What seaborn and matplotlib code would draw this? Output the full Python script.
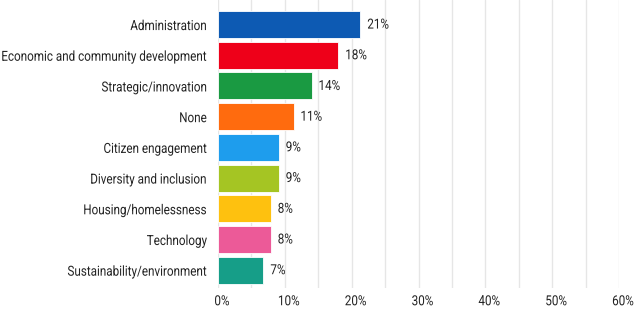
import matplotlib
matplotlib.use("Agg")
import matplotlib.pyplot as plt
import matplotlib.transforms as mtransforms
import matplotlib.patheffects as pe
import seaborn as sns
import pandas as pd
from matplotlib.ticker import MultipleLocator, FuncFormatter

categories = ["Administration", "Economic and community development", "Strategic/innovation",
              "None", "Citizen engagement", "Diversity and inclusion", "Housing/homelessness",
              "Technology", "Sustainability/environment"]
values = [21.3, 18.0, 14.0, 11.3, 9.1, 9.1, 7.9, 7.9, 6.8]
labels = ["21%", "18%", "14%", "11%", "9%", "9%", "8%", "8%", "7%"]
colors = ["#0D5AB3", "#EE0019", "#1A9A42", "#FF6B0E", "#1E9DED", "#A5C523",
          "#FEC10F", "#EC5A98", "#169E88"]


class Condense(pe.AbstractPathEffect):
    """Narrow the glyphs horizontally about an anchor side (condensed look)."""
    def __init__(self, sx=0.84, side="left"):
        super().__init__()
        self.sx = sx
        self.side = side

    def draw_path(self, renderer, gc, tpath, affine, rgbFace=None):
        v = affine.transform(tpath.vertices)
        if len(v):
            xmin, xmax = v[:, 0].min(), v[:, 0].max()
            a = {"left": xmin, "right": xmax, "center": 0.5 * (xmin + xmax)}[self.side]
            affine = affine + mtransforms.Affine2D().translate(-a, 0).scale(self.sx, 1).translate(a, 0)
        renderer.draw_path(gc, tpath, affine, rgbFace)


sns.set_theme(style="white")
plt.rcParams['font.family'] = ['Roboto', 'DejaVu Sans']

df = pd.DataFrame({"cat": categories, "val": values})
fig = plt.figure(figsize=(6.36, 3.09), dpi=100)
ax = fig.add_axes([218/636, 1-288/309, 401/636, 288/309])
sns.barplot(data=df, x="val", y="cat", hue="cat", palette=colors, legend=False,
            saturation=1, width=0.88, ax=ax, edgecolor="white", linewidth=0.6, zorder=3)
ax.set_xlim(0, 60)
ax.set_ylim(8.58, -0.8)
ax.xaxis.set_major_locator(MultipleLocator(10))
ax.xaxis.set_minor_locator(MultipleLocator(5))
ax.xaxis.set_major_formatter(FuncFormatter(lambda v, p: f"{int(v)}%"))
ax.grid(axis="x", which="both", color="#e6e6e6", linewidth=1, zorder=0)
for s in ax.spines.values():
    s.set_visible(False)
ax.set_xlabel("")
ax.set_ylabel("")
fs = 10
sx = 0.84
ax.tick_params(axis="x", which="both", length=0, pad=4.5, labelsize=fs, colors="#222222")
ax.tick_params(axis="y", length=0, pad=8, labelsize=fs, colors="#222222")
off = mtransforms.ScaledTranslation(4/100, 0, fig.dpi_scale_trans)
for lab in ax.get_xticklabels():
    lab.set_transform(lab.get_transform() + off)
    lab.set_path_effects([Condense(sx, "center")])
for lab in ax.get_yticklabels():
    lab.set_path_effects([Condense(sx, "right")])
for i, (v, l) in enumerate(zip(values, labels)):
    t = ax.annotate(l, (v, i), xytext=(5, 0), textcoords="offset points", va="center",
                    ha="left", fontsize=fs, color="#222222")
    t.set_path_effects([Condense(sx, "left")])
fig.savefig("out.png", dpi=100)
